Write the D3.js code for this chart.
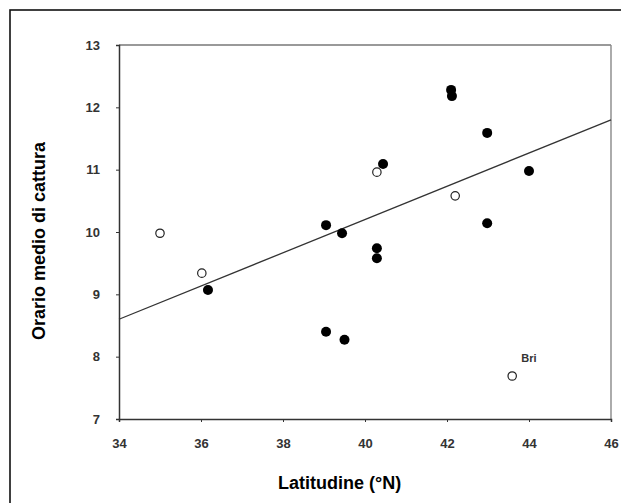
<!DOCTYPE html>
<html lang="en">
<head>
    <meta charset="utf-8">
    <title>Orario medio di cattura vs latitudine</title>
    <script src="https://d3js.org/d3.v7.min.js"></script>
    <style>
        body { margin: 0; background: #fff; }
        text { font-family: "Liberation Sans", Arial, sans-serif; }
    </style>
</head>
<body>
<svg class="chart"></svg>
<script>
    // data
    let filledLat = [36.17, 39.05, 39.44, 39.05, 39.5, 40.29, 40.29, 40.44, 42.1, 42.12, 42.98, 42.98, 44.0];
    let filledHour = [9.07, 10.11, 9.98, 8.40, 8.27, 9.74, 9.58, 11.09, 12.28, 12.18, 11.59, 10.14, 10.98];
    let openLat = [35.0, 36.02, 40.29, 42.2, 43.59];
    let openHour = [9.98, 9.34, 10.96, 10.58, 7.69];
    let lineLat = [34, 46];
    let lineHour = [8.6, 11.8];
    let xTicks = [34, 36, 38, 40, 42, 44, 46];
    let yTicks = [7, 8, 9, 10, 11, 12, 13];

    let W = 621, H = 503;
    let plotLeft = 119, plotRight = 611, plotTop = 45, plotBottom = 419;

    let svg = d3.select(".chart").attr("width", W).attr("height", H);

    // outer frame (right and bottom edges fall outside the picture)
    svg.append("rect")
        .attr("x", 10).attr("y", 10)
        .attr("width", W).attr("height", H)
        .attr("fill", "none").attr("stroke", "#111").attr("stroke-width", 1.6);

    let x = d3.scaleLinear().domain([34, 46]).range([plotLeft, plotRight]);
    let y = d3.scaleLinear().domain([7, 13]).range([plotBottom, plotTop]);

    // plot box, top and right a bit lighter
    svg.append("line").attr("x1", plotLeft).attr("x2", plotRight).attr("y1", plotTop).attr("y2", plotTop)
        .attr("stroke", "#777").attr("stroke-width", 1.4);
    svg.append("line").attr("x1", plotRight).attr("x2", plotRight).attr("y1", plotTop).attr("y2", plotBottom)
        .attr("stroke", "#888").attr("stroke-width", 1.4);

    let xAxis = d3.axisBottom(x).tickValues(xTicks).tickFormat(d3.format("d")).tickSize(3).tickPadding(17);
    let yAxis = d3.axisLeft(y).tickValues(yTicks).tickFormat(d3.format("d")).tickSize(3).tickPadding(16);

    let gx = svg.append("g").attr("transform", "translate(0," + plotBottom + ")").call(xAxis);
    let gy = svg.append("g").attr("transform", "translate(" + plotLeft + ",0)").call(yAxis);

    [gx, gy].forEach(function (g) {
        g.select(".domain").attr("stroke", "#333").attr("stroke-width", 1.5);
        g.selectAll(".tick line").attr("stroke", "#333");
        g.selectAll(".tick text")
            .attr("fill", "#333")
            .style("font-size", "13px")
            .style("font-weight", "bold");
    });

    // regression line
    svg.append("line")
        .attr("x1", x(lineLat[0])).attr("y1", y(lineHour[0]))
        .attr("x2", x(lineLat[1])).attr("y2", y(lineHour[1]))
        .attr("stroke", "#333").attr("stroke-width", 1.3);

    svg.selectAll(".filled")
        .data(d3.range(filledLat.length))
        .enter().append("circle")
        .attr("class", "filled")
        .attr("cx", function (i) { return x(filledLat[i]); })
        .attr("cy", function (i) { return y(filledHour[i]); })
        .attr("r", 5)
        .attr("fill", "#000");

    svg.selectAll(".open")
        .data(d3.range(openLat.length))
        .enter().append("circle")
        .attr("class", "open")
        .attr("cx", function (i) { return x(openLat[i]); })
        .attr("cy", function (i) { return y(openHour[i]); })
        .attr("r", 4.2)
        .attr("fill", "#fff")
        .attr("stroke", "#222")
        .attr("stroke-width", 1.2);

    svg.append("text")
        .attr("x", x(openLat[4]) + 9).attr("y", y(openHour[4]) - 14)
        .text("Bri")
        .style("font-size", "11px").style("font-weight", "bold").attr("fill", "#333");

    // axis titles
    svg.append("text")
        .attr("x", 278).attr("y", 489)
        .attr("text-anchor", "start")
        .style("font-size", "18px").style("font-weight", "bold")
        .text("Latitudine (°N)");

    svg.append("text")
        .attr("transform", "translate(45,340) rotate(-90)")
        .attr("text-anchor", "start")
        .style("font-size", "18px").style("font-weight", "bold")
        .text("Orario medio di cattura");
</script>
</body>
</html>
